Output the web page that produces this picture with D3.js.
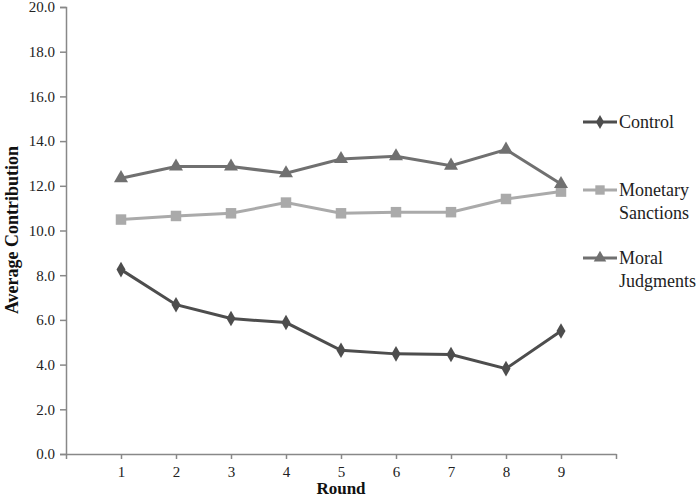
<!DOCTYPE html>
<html>
<head>
<meta charset="utf-8">
<script src="https://cdn.jsdelivr.net/npm/d3@7"></script>
<style>
  body { margin: 0; background: #fff; }
  svg text { font-family: "Liberation Serif", "Times New Roman", serif !important; }
</style>
</head>
<body>
<svg id="chart" width="700" height="499"></svg>
<script>
var rounds = [1, 2, 3, 4, 5, 6, 7, 8, 9];
var control = [8.25, 6.68, 6.06, 5.88, 4.64, 4.48, 4.45, 3.82, 5.50];
var monetary = [10.49, 10.65, 10.77, 11.25, 10.77, 10.82, 10.82, 11.41, 11.74];
var moral = [12.34, 12.86, 12.86, 12.56, 13.20, 13.32, 12.90, 13.62, 12.08];
var yTicks = [0, 2, 4, 6, 8, 10, 12, 14, 16, 18, 20];

var series = [
  { name: ["Control"], values: control, color: "#4d4d4d", shape: d3.symbolDiamond, size: 70, ly: 122 },
  { name: ["Monetary", "Sanctions"], values: monetary, color: "#aaaaaa", shape: d3.symbolSquare, size: 110, ly: 190 },
  { name: ["Moral", "Judgments"], values: moral, color: "#707070", shape: d3.symbolTriangle, size: 85, ly: 258 }
];

var svg = d3.select("#chart");

var x = d3.scaleLinear().domain([0, 10]).range([66, 616]);
var y = d3.scaleLinear().domain([0, 20]).range([454, 7]);

// y axis
var yAxis = svg.append("g").attr("transform", "translate(66,0)")
  .call(d3.axisLeft(y).tickValues(yTicks).tickSize(6).tickFormat(d3.format(".1f")));
yAxis.attr("font-size", null).attr("font-family", null);
yAxis.select(".domain").attr("stroke", "#888").attr("stroke-width", 1.5);
yAxis.selectAll(".tick line").attr("stroke", "#888").attr("stroke-width", 1.5);
yAxis.selectAll("text").style("font-size", "15px").attr("fill", "#222").attr("x", -11);

// x axis
var xAxis = svg.append("g").attr("transform", "translate(0,454)")
  .call(d3.axisBottom(x).tickValues(d3.range(0, 11)).tickSize(5).tickSizeOuter(0)
    .tickFormat(function(d) { return rounds.indexOf(d) >= 0 ? d : ""; }));
xAxis.attr("font-size", null).attr("font-family", null);
xAxis.select(".domain").attr("stroke", "#888").attr("stroke-width", 1.5);
xAxis.selectAll(".tick line").attr("stroke", "#888").attr("stroke-width", 1.5);
xAxis.selectAll("text").style("font-size", "15px").attr("fill", "#222").attr("y", 12);

// titles
svg.append("text").attr("x", 341).attr("y", 494).attr("text-anchor", "middle")
  .style("font-size", "17px").attr("font-weight", "bold").attr("fill", "#111").text("Round");
svg.append("text").attr("transform", "translate(18,230) rotate(-90)").attr("text-anchor", "middle")
  .style("font-size", "18px").attr("font-weight", "bold").attr("fill", "#111").text("Average Contribution");

var line = d3.line()
  .x(function(d, i) { return x(rounds[i]); })
  .y(function(d) { return y(d); });

series.forEach(function(s) {
  svg.append("path").datum(s.values)
    .attr("d", line).attr("fill", "none")
    .attr("stroke", s.color).attr("stroke-width", 3);
  svg.selectAll(null).data(s.values).enter().append("path")
    .attr("d", d3.symbol().type(s.shape).size(s.size))
    .attr("transform", function(d, i) { return "translate(" + x(rounds[i]) + "," + y(d) + ")"; })
    .attr("fill", s.color);

  // legend
  var lg = svg.append("g").attr("transform", "translate(583," + s.ly + ")");
  lg.append("line").attr("x1", 0).attr("x2", 34).attr("stroke", s.color).attr("stroke-width", 3);
  lg.append("path").attr("d", d3.symbol().type(s.shape).size(s.size * 0.8))
    .attr("transform", "translate(17,0)").attr("fill", s.color);
  lg.selectAll("text").data(s.name).enter().append("text")
    .attr("x", 36).attr("y", function(d, i) { return 6 + i * 23; })
    .style("font-size", "18px").attr("fill", "#222").text(function(d) { return d; });
});
</script>
</body>
</html>
